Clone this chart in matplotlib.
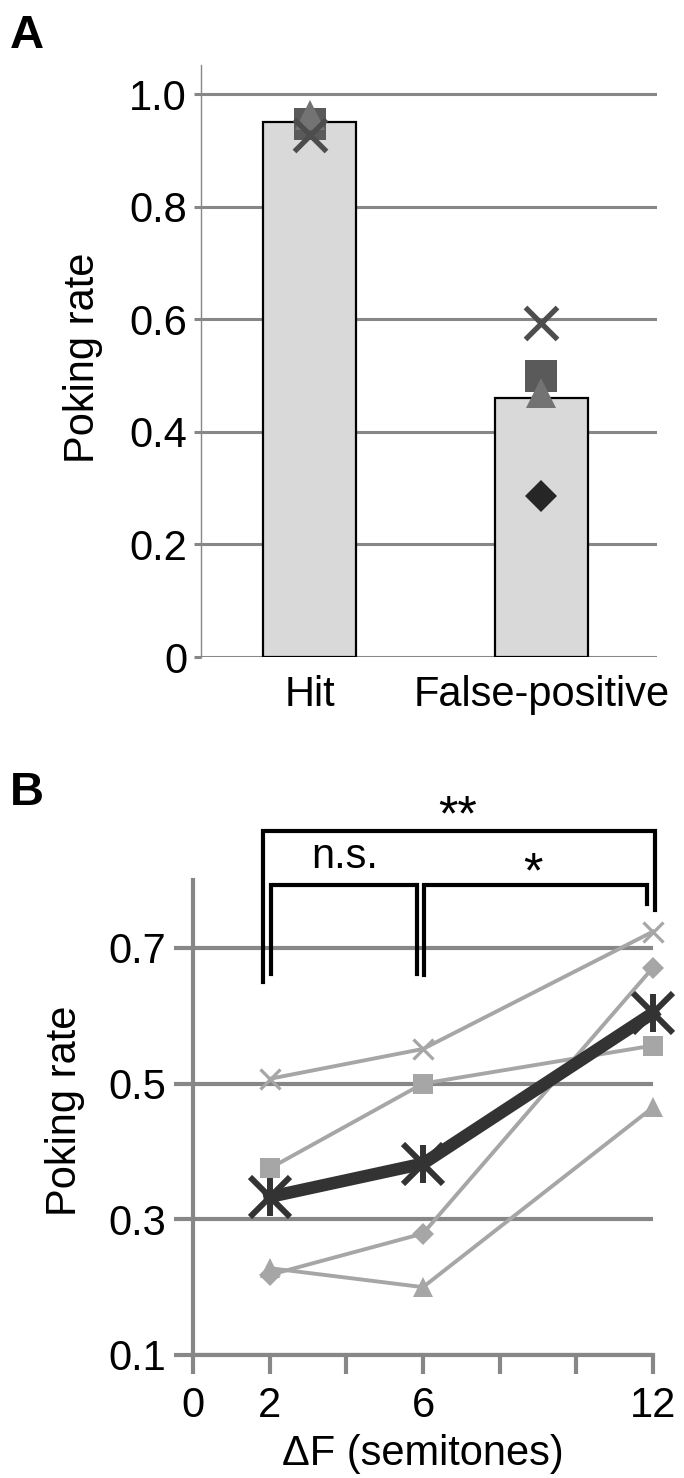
"""Poking rate figure: panel A (hit vs false-positive), panel B (rate vs delta F)."""
import matplotlib
matplotlib.use("Agg")
import matplotlib.pyplot as plt

plt.rcParams.update({"font.family": ["Liberation Sans", "DejaVu Sans"], "font.size": 30})

# panel A
categories = ["Hit", "False-positive"]
bar_means = [0.95, 0.46]
a_diamond = [0.95, 0.286]
a_square = [0.947, 0.499]
a_triangle = [0.963, 0.469]
a_cross = [0.928, 0.594]

# panel B
semitones = [2, 6, 12]
b_cross = [0.507, 0.551, 0.724]
b_square = [0.375, 0.500, 0.556]
b_diamond = [0.218, 0.279, 0.671]
b_triangle = [0.228, 0.200, 0.465]
b_mean = [0.333, 0.382, 0.604]
b_xticks = [0, 2, 4, 6, 8, 10, 12]
b_xticklabels = ["0", "2", "", "6", "", "", "12"]
b_yticks = [0.1, 0.3, 0.5, 0.7]

GRID = "#878787"
LIGHT = "#a6a6a6"
DARK = "#333333"

fig = plt.figure(figsize=(6.84, 14.78), dpi=100)

# ---------------- panel A ----------------
axA = fig.add_axes([201 / 684, 1 - 657 / 1478, 456 / 684, 592 / 1478])
pos = [0.5, 1.5]
axA.set_xlim(0.03, 2.0)
axA.set_ylim(0, 1.052)
axA.set_yticks([0, 0.2, 0.4, 0.6, 0.8, 1.0])
axA.set_yticklabels(["0", "0.2", "0.4", "0.6", "0.8", "1.0"])
axA.grid(axis="y", color=GRID, lw=2.2, zorder=0)
axA.set_axisbelow(True)
for s in ["top", "right", "bottom"]:
    axA.spines[s].set_visible(False)
axA.spines["left"].set_color(GRID)
axA.spines["left"].set_linewidth(1)
axA.tick_params(axis="y", length=5, width=2.2, color=GRID, pad=5)
axA.tick_params(axis="x", length=0, pad=13)
axA.bar(pos, bar_means, width=0.4, color="#d9d9d9", edgecolor="black", lw=1.6, zorder=2)
axA.set_xticks(pos)
axA.set_xticklabels(categories)
axA.plot(pos, a_diamond, ls="none", marker="D", ms=16, mew=0, color="#262626", zorder=3)
axA.plot(pos, a_square, ls="none", marker="s", ms=23, mew=0, color="#5a5a5a", zorder=4)
axA.plot(pos, a_triangle, ls="none", marker="^", ms=22, mew=0, color="#737373", zorder=5)
axA.plot(pos, a_cross, ls="none", marker="x", ms=23, mew=3.8, color="#4d4d4d", zorder=6)
axA.set_ylabel("Poking rate")
axA.yaxis.set_label_coords(-0.215, 0.505)

# ---------------- panel B ----------------
axB = fig.add_axes([193 / 684, 1 - 1355 / 1478, 460 / 684, 475 / 1478])
axB.set_xlim(0, 12)
axB.set_ylim(0.1, 0.8)
axB.set_yticks(b_yticks)
axB.set_yticklabels(["0.1", "0.3", "0.5", "0.7"])
axB.set_xticks(b_xticks)
axB.set_xticklabels(b_xticklabels)
axB.grid(axis="y", color=GRID, lw=3, zorder=0)
axB.set_axisbelow(True)
for s in ["top", "right"]:
    axB.spines[s].set_visible(False)
for s in ["left", "bottom"]:
    axB.spines[s].set_color(GRID)
    axB.spines[s].set_linewidth(3)
axB.tick_params(axis="both", length=14, width=3, color=GRID)
axB.tick_params(axis="y", pad=5)
axB.tick_params(axis="x", pad=8)

kw = dict(color=LIGHT, lw=2.8, mew=0, clip_on=False)
axB.plot(semitones, b_cross, marker="x", ms=15, mew=2.3, color=LIGHT, lw=2.8, clip_on=False, zorder=3)
axB.plot(semitones, b_square, marker="s", ms=15, zorder=3, **kw)
axB.plot(semitones, b_triangle, marker="^", ms=15, zorder=3, **kw)
axB.plot(semitones, b_diamond, marker="D", ms=11.5, zorder=3, **kw)
axB.plot(semitones, b_mean, marker="x", ms=29, mew=4.3, color=DARK, lw=9, clip_on=False, zorder=5)
axB.plot(semitones, b_mean, ls="none", marker="|", ms=27, mew=4.3, color=DARK, clip_on=False, zorder=5)

# significance brackets
br = dict(color="black", lw=3, clip_on=False, solid_capstyle="projecting", solid_joinstyle="miter")
axB.plot([1.83, 1.83, 12.05, 12.05], [0.649, 0.872, 0.872, 0.756], **br)
axB.plot([2.03, 2.03, 5.84, 5.84], [0.662, 0.793, 0.793, 0.662], **br)
axB.plot([6.03, 6.03, 11.84, 11.84], [0.660, 0.793, 0.793, 0.765], **br)
axB.text(6.9, 0.893, "**", ha="center", va="center", fontsize=36)
axB.text(3.97, 0.834, "n.s.", ha="center", va="center", fontsize=30)
axB.text(8.87, 0.808, "*", ha="center", va="center", fontsize=36)

axB.set_ylabel("Poking rate")
axB.yaxis.set_label_coords(-0.235, 0.515)
axB.set_xlabel("\u0394F (semitones)", labelpad=6)

fig.text(10 / 684, 1 - 14 / 1478, "A", fontsize=34, fontweight="bold", va="top", ha="left")
fig.text(10 / 684, 1 - 771 / 1478, "B", fontsize=34, fontweight="bold", va="top", ha="left")

fig.savefig("out.png", dpi=100)
